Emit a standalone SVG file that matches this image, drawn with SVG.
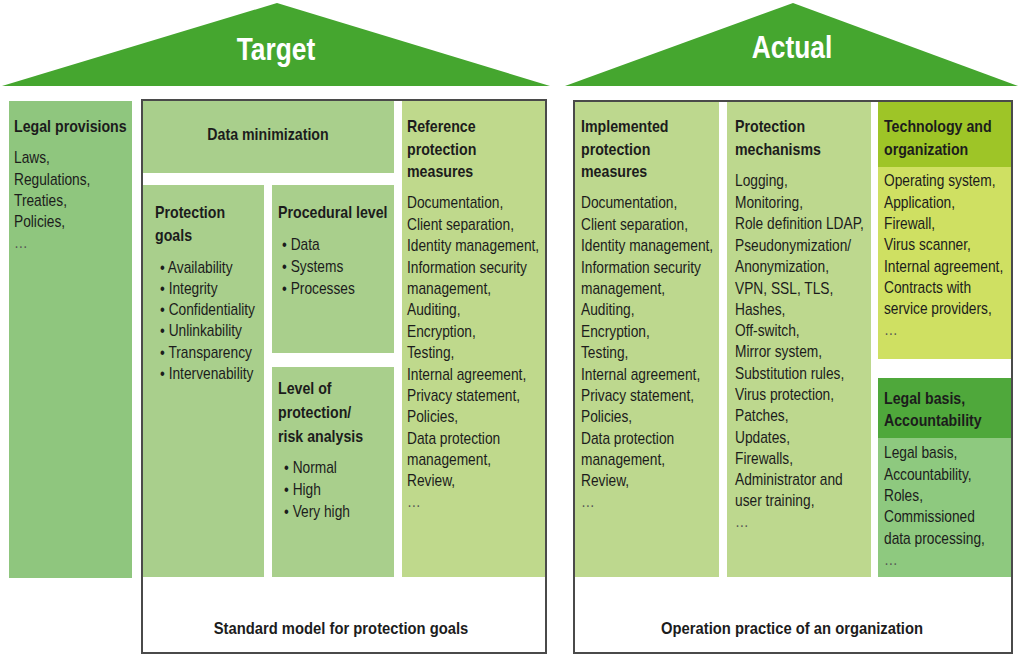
<svg xmlns="http://www.w3.org/2000/svg" width="1024" height="657" viewBox="0 0 1024 657">
<style>
text{font-family:"Liberation Sans",Arial,sans-serif;font-size:16px;fill:#1c1c1c}
.h{font-weight:bold;font-size:16.5px}
.b{font-weight:bold;font-size:17.2px}
.c{text-anchor:middle}
.roof{fill:#45a62f}
.ttl{font-weight:bold;font-size:31px;fill:#ffffff;text-anchor:middle}
.frame{fill:none;stroke:#4a4a4a;stroke-width:2}
.g1{fill:#8fc67e}
.g2{fill:#a9cf8c}
.g3{fill:#bfd98c}
.g4{fill:#bdd88e}
.th{fill:#9ec527}
.tb{fill:#cfe062}
.lh{fill:#4fa83b}
.lb{fill:#8ec97f}
.dots{fill:#555}
</style>
<rect width="1024" height="657" fill="#ffffff"/>

<g id="roof-target">
<polygon class="roof" points="2,86 277,3 550,86"/>
<g transform="translate(276 60) scale(0.85 1)"><text class="ttl" x="0" y="0">Target</text></g>
</g>
<g id="roof-actual">
<polygon class="roof" points="565,86 793,3 1018,86"/>
<g transform="translate(792 58) scale(0.85 1)"><text class="ttl" x="0" y="0">Actual</text></g>
</g>

<g id="legal-provisions">
<rect class="g1" x="9" y="101" width="123" height="477"/>
<g transform="translate(14 0) scale(0.86 1)">
<text class="h" x="0" y="132">Legal provisions</text>
<text x="0" y="163">Laws,</text>
<text x="0" y="185">Regulations,</text>
<text x="0" y="206">Treaties,</text>
<text x="0" y="227">Policies,</text>
<text class="dots" x="0" y="248">…</text>
</g>
</g>

<g id="target-frame">
<rect x="142" y="100" width="404" height="553" fill="#ffffff"/>
</g>

<g id="data-minimization">
<rect class="g2" x="142" y="101" width="252" height="72"/>
<g transform="translate(268 0) scale(0.86 1)"><text class="h c" x="0" y="140">Data minimization</text></g>
</g>

<g id="protection-goals">
<rect class="g2" x="143" y="185" width="121" height="392"/>
<g transform="translate(155 0) scale(0.86 1)">
<text class="h" x="0" y="218">Protection</text>
<text class="h" x="0" y="241">goals</text>
</g>
<g transform="translate(160 0) scale(0.86 1)">
<text x="0" y="273">• Availability</text>
<text x="0" y="294">• Integrity</text>
<text x="0" y="315">• Confidentiality</text>
<text x="0" y="336">• Unlinkability</text>
<text x="0" y="358">• Transparency</text>
<text x="0" y="379">• Intervenability</text>
</g>
</g>

<g id="procedural-level">
<rect class="g2" x="272" y="185" width="122" height="168"/>
<g transform="translate(278 0) scale(0.86 1)">
<text class="h" x="0" y="218">Procedural level</text>
</g>
<g transform="translate(282 0) scale(0.86 1)">
<text x="0" y="250">• Data</text>
<text x="0" y="272">• Systems</text>
<text x="0" y="294">• Processes</text>
</g>
</g>

<g id="level-of-protection">
<rect class="g2" x="272" y="367" width="122" height="210"/>
<g transform="translate(278 0) scale(0.86 1)">
<text class="h" x="0" y="394">Level of</text>
<text class="h" x="0" y="418">protection/</text>
<text class="h" x="0" y="442">risk analysis</text>
</g>
<g transform="translate(284 0) scale(0.86 1)">
<text x="0" y="473">• Normal</text>
<text x="0" y="495">• High</text>
<text x="0" y="517">• Very high</text>
</g>
</g>

<g id="reference-measures">
<rect class="g3" x="402" y="101" width="143" height="476"/>
<g transform="translate(407 0) scale(0.86 1)">
<text class="h" x="0" y="132">Reference</text>
<text class="h" x="0" y="155">protection</text>
<text class="h" x="0" y="177">measures</text>
<text x="0" y="208">Documentation,</text>
<text x="0" y="230">Client separation,</text>
<text x="0" y="251">Identity management,</text>
<text x="0" y="273">Information security</text>
<text x="0" y="294">management,</text>
<text x="0" y="315">Auditing,</text>
<text x="0" y="337">Encryption,</text>
<text x="0" y="358">Testing,</text>
<text x="0" y="380">Internal agreement,</text>
<text x="0" y="401">Privacy statement,</text>
<text x="0" y="422">Policies,</text>
<text x="0" y="444">Data protection</text>
<text x="0" y="465">management,</text>
<text x="0" y="486">Review,</text>
<text class="dots" x="0" y="507">…</text>
</g>
</g>

<g id="standard-model">
<rect class="frame" x="142" y="100" width="404" height="553"/>
<g transform="translate(341 0) scale(0.86 1)"><text class="b c" x="0" y="634">Standard model for protection goals</text></g>
</g>

<g id="actual-frame">
<rect x="574" y="101" width="438" height="552" fill="#ffffff"/>
</g>

<g id="implemented-measures">
<rect class="g4" x="575" y="102" width="144" height="475"/>
<g transform="translate(581 0) scale(0.86 1)">
<text class="h" x="0" y="132">Implemented</text>
<text class="h" x="0" y="155">protection</text>
<text class="h" x="0" y="177">measures</text>
<text x="0" y="208">Documentation,</text>
<text x="0" y="230">Client separation,</text>
<text x="0" y="251">Identity management,</text>
<text x="0" y="273">Information security</text>
<text x="0" y="294">management,</text>
<text x="0" y="315">Auditing,</text>
<text x="0" y="337">Encryption,</text>
<text x="0" y="358">Testing,</text>
<text x="0" y="380">Internal agreement,</text>
<text x="0" y="401">Privacy statement,</text>
<text x="0" y="422">Policies,</text>
<text x="0" y="444">Data protection</text>
<text x="0" y="465">management,</text>
<text x="0" y="486">Review,</text>
<text class="dots" x="0" y="507">…</text>
</g>
</g>

<g id="protection-mechanisms">
<rect class="g4" x="727" y="102" width="144" height="475"/>
<g transform="translate(735 0) scale(0.86 1)">
<text class="h" x="0" y="132">Protection</text>
<text class="h" x="0" y="155">mechanisms</text>
<text x="0" y="186">Logging,</text>
<text x="0" y="208">Monitoring,</text>
<text x="0" y="229">Role definition LDAP,</text>
<text x="0" y="251">Pseudonymization/</text>
<text x="0" y="272">Anonymization,</text>
<text x="0" y="294">VPN, SSL, TLS,</text>
<text x="0" y="315">Hashes,</text>
<text x="0" y="336">Off-switch,</text>
<text x="0" y="357">Mirror system,</text>
<text x="0" y="379">Substitution rules,</text>
<text x="0" y="400">Virus protection,</text>
<text x="0" y="421">Patches,</text>
<text x="0" y="443">Updates,</text>
<text x="0" y="464">Firewalls,</text>
<text x="0" y="485">Administrator and</text>
<text x="0" y="506">user training,</text>
<text class="dots" x="0" y="527">…</text>
</g>
</g>

<g id="technology-organization">
<rect class="th" x="878" y="102" width="133" height="65"/>
<rect class="tb" x="878" y="167" width="133" height="192"/>
<g transform="translate(884 0) scale(0.86 1)">
<text class="h" x="0" y="132">Technology and</text>
<text class="h" x="0" y="155">organization</text>
<text x="0" y="186">Operating system,</text>
<text x="0" y="208">Application,</text>
<text x="0" y="229">Firewall,</text>
<text x="0" y="250">Virus scanner,</text>
<text x="0" y="272">Internal agreement,</text>
<text x="0" y="293">Contracts with</text>
<text x="0" y="314">service providers,</text>
<text class="dots" x="0" y="335">…</text>
</g>
</g>

<g id="legal-basis">
<rect class="lh" x="878" y="378" width="133" height="60"/>
<rect class="lb" x="878" y="438" width="133" height="139"/>
<g transform="translate(884 0) scale(0.86 1)">
<text class="h" x="0" y="404">Legal basis,</text>
<text class="h" x="0" y="426">Accountability</text>
<text x="0" y="458">Legal basis,</text>
<text x="0" y="480">Accountability,</text>
<text x="0" y="501">Roles,</text>
<text x="0" y="522">Commissioned</text>
<text x="0" y="544">data processing,</text>
<text class="dots" x="0" y="565">…</text>
</g>
</g>

<g id="operation-practice">
<rect class="frame" x="574" y="101" width="438" height="552"/>
<g transform="translate(792 0) scale(0.86 1)"><text class="b c" x="0" y="634">Operation practice of an organization</text></g>
</g>
</svg>
